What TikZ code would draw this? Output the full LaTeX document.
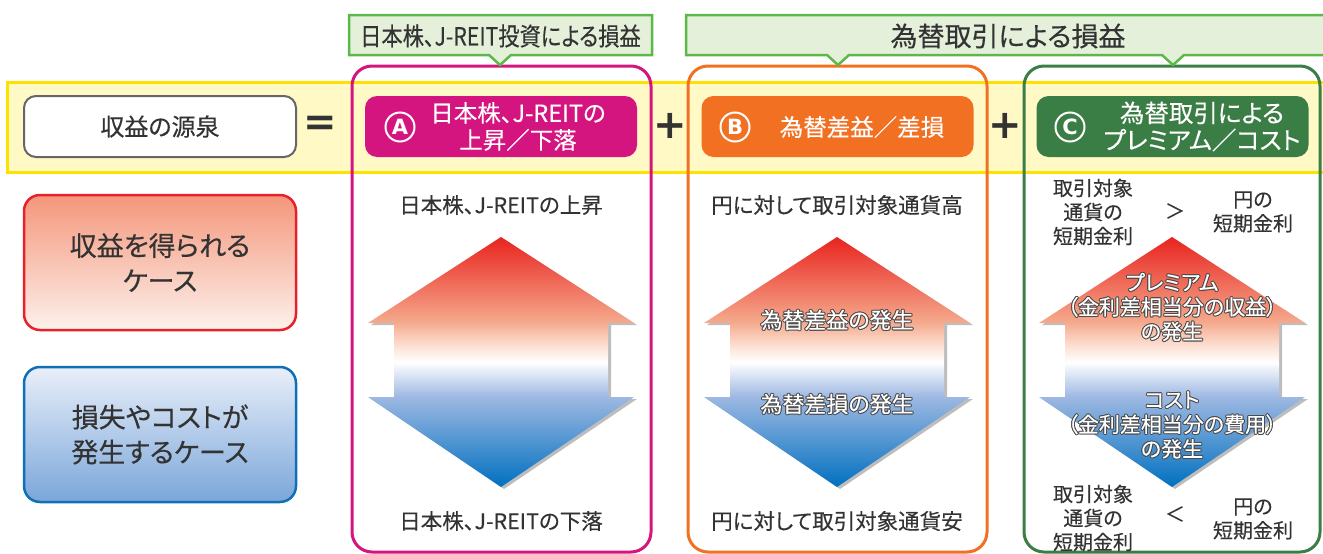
\documentclass[tikz,border=0pt]{standalone}
\usepackage{fontspec}
\setmainfont{Noto Sans CJK JP}[RawFeature=+palt, FakeBold=0.25]
\newfontfamily\dvs{DejaVu Sans}
\definecolor{txtc}{HTML}{333333}
\definecolor{bandfill}{HTML}{FFF9C6}
\definecolor{bandline}{HTML}{FFE100}
\definecolor{pinkc}{HTML}{D5157F}
\definecolor{orangec}{HTML}{F27022}
\definecolor{greenc}{HTML}{3B7E45}
\definecolor{callline}{HTML}{5CB848}
\definecolor{callfill}{HTML}{E4F0DA}
\definecolor{boxgray}{HTML}{666666}
\definecolor{redline}{HTML}{E8202A}
\definecolor{redtop}{HTML}{F4967A}
\definecolor{redbot}{HTML}{FDF1EC}
\definecolor{blueline}{HTML}{0F6FB7}
\definecolor{bluetop}{HTML}{E9EFF9}
\definecolor{bluebot}{HTML}{7AA6DA}
\definecolor{shadowc}{HTML}{BDBDBD}
\definecolor{haloc}{HTML}{4A4A4A}
\definecolor{aA}{HTML}{0070C0}
\definecolor{aB}{HTML}{9DB8E2}
\definecolor{aC}{HTML}{FBD8C8}
\definecolor{aD}{HTML}{F5A98C}
\definecolor{aE}{HTML}{E8231E}
\pgfdeclareverticalshading{arrsh}{100bp}{color(0bp)=(aA); color(25bp)=(aA); color(43bp)=(aB); color(50bp)=(white); color(54bp)=(aC); color(58bp)=(aD); color(75bp)=(aE); color(100bp)=(aE)}
\newcommand\fs[1]{\fontsize{#1}{#1}\selectfont}
\newcommand\halotxt[1]{%
\makebox[0pt][l]{\color{haloc}\raisebox{1pt}{#1}}%
\makebox[0pt][l]{\color{haloc}\raisebox{-1pt}{#1}}%
\makebox[0pt][l]{\color{haloc}\hspace{1pt}#1}%
\makebox[0pt][l]{\color{haloc}\hspace{-1pt}#1}%
\makebox[0pt][l]{\color{haloc}\hspace{0.7pt}\raisebox{0.7pt}{#1}}%
\makebox[0pt][l]{\color{haloc}\hspace{-0.7pt}\raisebox{0.7pt}{#1}}%
\makebox[0pt][l]{\color{haloc}\hspace{0.7pt}\raisebox{-0.7pt}{#1}}%
\makebox[0pt][l]{\color{haloc}\hspace{-0.7pt}\raisebox{-0.7pt}{#1}}%
{\color{white}#1}}
\tikzset{
 txt/.style={text=txtc, inner sep=0pt, font=\fs{21.5}},
 ctxt/.style={text=txtc, inner sep=0pt, align=center, font=\fontsize{20}{24}\selectfont},
 halo/.style={inner sep=0pt, align=center, font=\fontsize{21}{24.5}\selectfont},
 frame/.style={line width=3pt, rounded corners=20pt},
 hdr/.style={rounded corners=12pt, minimum width=272pt, minimum height=61pt, inner sep=0pt},
 hdrtxt/.style={text=white, inner sep=0pt, align=center, font=\fontsize{23.5}{27}\selectfont},
 circl/.style={circle, draw=white, line width=2pt, minimum size=29pt, inner sep=0pt, text=white, font=\dvs\bfseries\fs{21}},
 callout/.style={draw=callline, fill=callfill, line width=2.5pt, line join=miter},
 op/.style={text=txtc, inner sep=0pt, font=\dvs\bfseries\fs{40}},
 casebox/.style={rounded corners=16pt, line width=2.5pt, minimum width=272pt, minimum height=135pt, inner sep=0pt, align=center, text=txtc, font=\fontsize{27}{35}\selectfont},
 udarrow/.pic={
  \fill[shadowc, shift={(3,2)}] (0,0) -- (133,86) -- (107,86) -- (107,160) -- (133,160) -- (0,250) -- (-133,160) -- (-107,160) -- (-107,86) -- (-133,86) -- cycle;
  \path[shading=arrsh] (0,0) -- (133,86) -- (107,86) -- (107,160) -- (133,160) -- (0,250) -- (-133,160) -- (-107,160) -- (-107,86) -- (-133,86) -- cycle;
 }
}
\begin{document}
\begin{tikzpicture}[x=1pt,y=-1pt]
\useasboundingbox (0,0) rectangle (1323,554);
% yellow band
\draw[fill=bandfill, draw=bandline, line width=3pt] (7,82) rectangle (1335,172);
% frames
\draw[frame, pinkc] (352,66) rectangle (651,552);
\draw[frame, orangec] (688,66) rectangle (987,552);
\draw[frame, greenc] (1024,66) rectangle (1320,552);
% callouts
\draw[callout] (349,15) -- (652,15) -- (652,55) -- (511,55) -- (500,65) -- (489,55) -- (349,55) -- cycle;
\node[txt, font=\fs{25}] (cl1) at (500.5,36) {\scalebox{0.85}[1]{日本株、J-REIT投資による損益}};
\draw[callout] (686,15) -- (1335,15) -- (1335,55) -- (1184,55) -- (1173,65) -- (1162,55) -- (849,55) -- (838,65) -- (827,55) -- (686,55) -- cycle;
\node[txt, font=\fs{27}] (cl2) at (1008,36) {為替取引による損益};
% source box
\node[draw=boxgray, fill=white, line width=2pt, rounded corners=12pt, minimum width=272pt, minimum height=61pt, inner sep=0pt, text=txtc, font=\fs{24}] (src) at (160,126.5) {収益の源泉};
\node[op] (eq) at (320,126) {=};
\node[op] (plus1) at (670,126) {+};
\node[op] (plus2) at (1005,126) {+};
% headers
\node[hdr, fill=pinkc] (hA) at (501,126.5) {};
\node[circl] (cA) at (400,127) {A};
\node[hdrtxt] (tA) at (518,126.5) {日本株、J-REITの\\上昇／下落};
\node[hdr, fill=orangec] (hB) at (837.5,126.5) {};
\node[circl] (cB) at (735,127) {B};
\node[hdrtxt] (tB) at (862,127) {為替差益／差損};
\node[hdr, fill=greenc] (hC) at (1172.5,126.5) {};
\node[circl] (cC) at (1070,127) {C};
\node[hdrtxt, font=\fontsize{24.5}{27}\selectfont] (tC) at (1202,126.5) {為替取引による\\プレミアム／コスト};
% case boxes
\node[casebox, draw=redline, top color=redtop, bottom color=redbot] (gain) at (160,262.5) {収益を得られる\\ケース};
\node[casebox, draw=blueline, top color=bluetop, bottom color=bluebot] (loss) at (160,434.5) {損失やコストが\\発生するケース};
% arrows
\pic (arA) at (501,237) {udarrow};
\pic (arB) at (837,237) {udarrow};
\pic (arC) at (1172,237) {udarrow};
% column A texts
\node[txt] (aUp) at (501,205) {日本株、J-REITの上昇};
\node[txt] (aDn) at (501,521) {日本株、J-REITの下落};
% column B texts
\node[txt] (bUp) at (837,205) {円に対して取引対象通貨高};
\node[txt] (bDn) at (837,521) {円に対して取引対象通貨安};
\node[halo, font=\fs{22}] (bG) at (837,320) {\halotxt{為替差益の発生}};
\node[halo, font=\fs{22}] (bL) at (837,404) {\halotxt{為替差損の発生}};
% column C texts
\node[ctxt] (cT1) at (1093,212) {取引対象\\通貨の\\短期金利};
\node[ctxt] (cTg) at (1175,211) {＞};
\node[ctxt] (cT2) at (1253,212) {円の\\短期金利};
\node[ctxt] (cB1) at (1093,518) {取引対象\\通貨の\\短期金利};
\node[ctxt] (cBl) at (1175,514) {＜};
\node[ctxt] (cB2) at (1253,519) {円の\\短期金利};
\node[halo] (cP) at (1172,307) {\halotxt{プレミアム}\\\halotxt{（金利差相当分の収益）}\\\halotxt{の発生}};
\node[halo] (cK) at (1172,425) {\halotxt{コスト}\\\halotxt{（金利差相当分の費用）}\\\halotxt{の発生}};
\end{tikzpicture}
\end{document}
